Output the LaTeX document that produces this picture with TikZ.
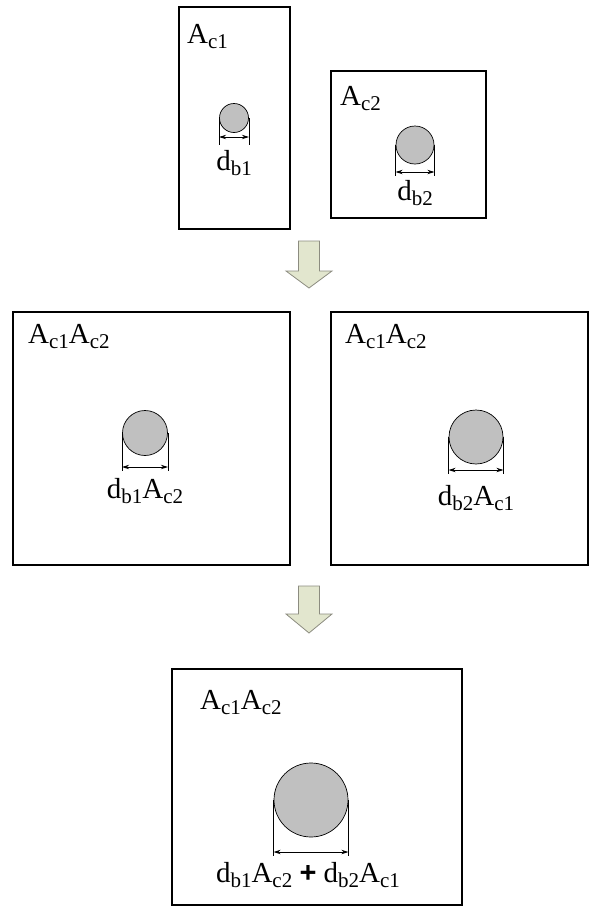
\documentclass[tikz,border=0pt]{standalone}
\usepackage{fontspec}
\setmainfont{Liberation Serif}
\newfontfamily\plusfont{Liberation Sans}
\usetikzlibrary{arrows.meta,calc}

% lowered subscript used in all labels
\newcommand\lowsub[1]{\raisebox{-5pt}{\fontsize{21}{21}\selectfont #1}}
\newcommand\Ac[1]{A\lowsub{c#1}}
\newcommand\db[1]{d\lowsub{b#1}}

\definecolor{barfill}{RGB}{192,192,192}
\definecolor{arrowfill}{RGB}{226,230,206}
\definecolor{arrowline}{RGB}{140,140,128}

\begin{document}
\begin{tikzpicture}[x=1pt,y=-1pt,
  section/.style={draw=black,line width=1.3pt,fill=white,inner sep=0pt},
  bar/.style={circle,draw=black,line width=0.7pt,fill=barfill,inner sep=0pt},
  dimline/.style={line width=0.8pt,{Stealth[length=7pt,width=4.5pt]}-{Stealth[length=7pt,width=4.5pt]}},
  extline/.style={line width=0.7pt},
  lbl/.style={font=\fontsize{29}{31}\selectfont,inner sep=0pt,anchor=base west},
  clbl/.style={font=\fontsize{29}{31}\selectfont,inner sep=0pt,anchor=base},
  flow/.style={draw=arrowline,line width=0.8pt,fill=arrowfill,line join=miter}
]
\useasboundingbox (0,0) rectangle (600,924);

% ---------- separate sections ----------
\node[section,minimum width=111pt,minimum height=222pt] (s1) at (234.5,118) {};
\node[section,minimum width=155pt,minimum height=147pt] (s2) at (408.5,144.5) {};
\node[lbl] (s1name) at (187,43) {\Ac1};
\node[lbl] (s2name) at (340,105) {\Ac2};

\node[bar,minimum size=29pt] (b1) at (234,118) {};
\node[bar,minimum size=38pt] (b2) at (415,145) {};

\coordinate (b1l) at ($(b1.west)+(0,19)$);
\coordinate (b1r) at ($(b1.east)+(0,19)$);
\draw[extline] (b1.west) -- ($(b1l)+(0,8)$);
\draw[extline] (b1.east) -- ($(b1r)+(0,8)$);
\draw[dimline] (b1l) -- (b1r);
\node[clbl] (d1) at (234,170) {\db1};

\coordinate (b2l) at ($(b2.west)+(0,27)$);
\coordinate (b2r) at ($(b2.east)+(0,27)$);
\draw[extline] (b2.west) -- ($(b2l)+(0,4)$);
\draw[extline] (b2.east) -- ($(b2r)+(0,4)$);
\draw[dimline] (b2l) -- (b2r);
\node[clbl] (d2) at (415,200) {\db2};

% ---------- first step arrow ----------
\node[inner sep=0pt] (f1) at (309,265) {};
\draw[flow] (298.5,241) -- (319.5,241) -- (319.5,271) -- (332,271)
  -- (309,288) -- (286,271) -- (298.5,271) -- cycle;

% ---------- scaled sections ----------
\node[section,minimum width=277pt,minimum height=253pt] (m1) at (151.5,438.5) {};
\node[section,minimum width=257pt,minimum height=253pt] (m2) at (459.5,438.5) {};
\node[lbl] (m1name) at (28,343) {\Ac1\Ac2};
\node[lbl] (m2name) at (345,343) {\Ac1\Ac2};

\node[bar,minimum size=45pt] (b3) at (145,433) {};
\node[bar,minimum size=54pt] (b4) at (476,437) {};

\coordinate (b3l) at ($(b3.west)+(0,34)$);
\coordinate (b3r) at ($(b3.east)+(0,34)$);
\draw[extline] (b3.west) -- ($(b3l)+(0,4)$);
\draw[extline] (b3.east) -- ($(b3r)+(0,4)$);
\draw[dimline] (b3l) -- (b3r);
\node[clbl] (d3) at (145,498) {\db1\Ac2};

\coordinate (b4l) at ($(b4.west)+(0,33)$);
\coordinate (b4r) at ($(b4.east)+(0,33)$);
\draw[extline] (b4.west) -- ($(b4l)+(0,4)$);
\draw[extline] (b4.east) -- ($(b4r)+(0,4)$);
\draw[dimline] (b4l) -- (b4r);
\node[clbl] (d4) at (476,505) {\db2\Ac1};

% ---------- second step arrow ----------
\node[inner sep=0pt] (f2) at (309,610) {};
\draw[flow] (298.5,586) -- (319.5,586) -- (319.5,614) -- (332,614)
  -- (309,633) -- (286,614) -- (298.5,614) -- cycle;

% ---------- combined section ----------
\node[section,minimum width=290pt,minimum height=236pt] (c) at (317,787) {};
\node[lbl] (cname) at (200,709) {\Ac1\Ac2};

\node[bar,minimum size=74pt] (b5) at (311,800) {};
\coordinate (b5l) at ($(b5.west)+(0,52)$);
\coordinate (b5r) at ($(b5.east)+(0,52)$);
\draw[extline] (b5.west) -- ($(b5l)+(0,4)$);
\draw[extline] (b5.east) -- ($(b5r)+(0,4)$);
\draw[dimline] (b5l) -- (b5r);
\node[clbl] (d5) at (308,882) {\db1\Ac2\ {\plusfont\bfseries +}\ \db2\Ac1};
\end{tikzpicture}
\end{document}
